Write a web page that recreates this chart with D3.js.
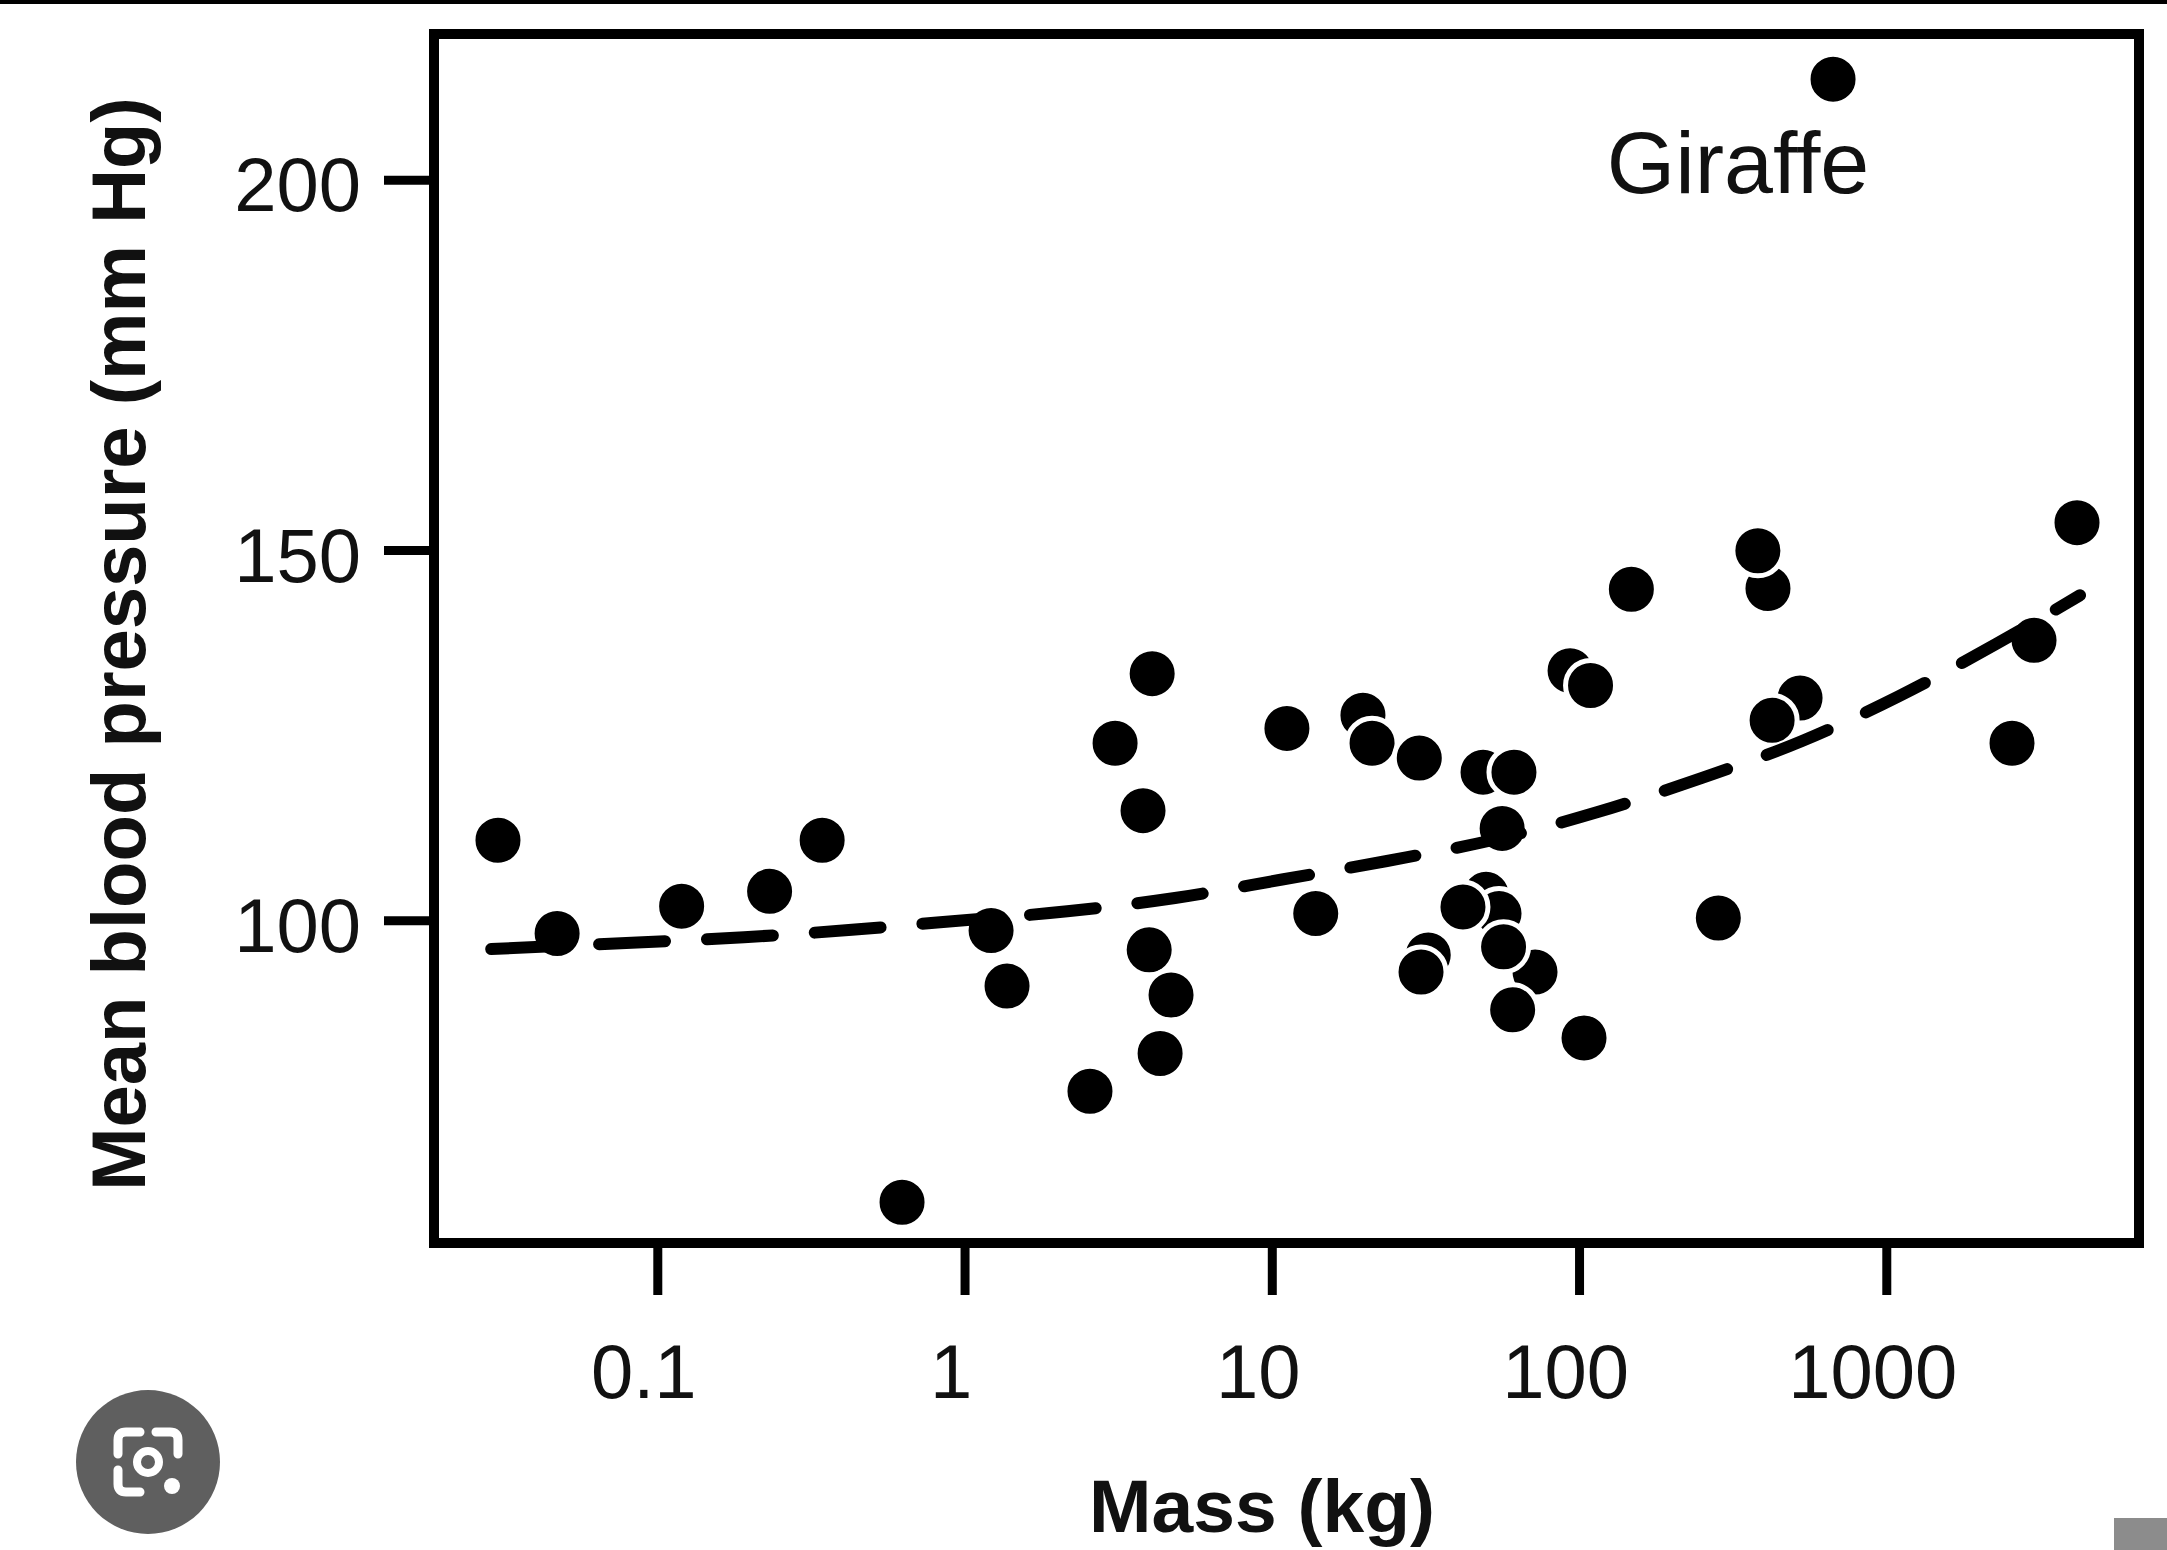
<!DOCTYPE html>
<html lang="en">
<head>
  <meta charset="UTF-8">
  <title>Mean blood pressure vs body mass</title>
  <script src="https://cdn.jsdelivr.net/npm/d3@7"></script>
  <style>
    html, body { margin: 0; padding: 0; background: #fff; }
    svg { display: block; }
    text { font-family: "Liberation Sans", Arial, Helvetica, sans-serif; fill: #111; }
    .axis path { display: none; }
    .axis line { stroke: #000; stroke-width: 9; }
  </style>
</head>
<body>
<svg id="chart"></svg>
<script>
// body mass (kg) and mean blood pressure (mm Hg)
// order matters a bit: later points sit on top of earlier ones
const mass = [
  0.0303, 0.0472, 0.120, 0.232, 0.344, 0.626, 1.22, 1.375, 2.56,
  3.09, 3.81, 4.08, 3.99, 4.70, 4.33,
  11.2, 13.9, 19.8, 21.2, 30.2, 32.3, 30.6,
  48.7, 61.4, 56.2, 49.8, 54.9, 41.9, 71.9, 56.8, 60.8,
  103.8, 93.5, 109, 148, 284, 412, 382, 524, 425, 671,
  2566, 3026, 4176
];
const pressure = [
  110.8, 98.2, 101.9, 103.9, 110.8, 61.9, 98.6, 91.1, 76.9,
  123.9, 114.8, 133.3, 96.0, 89.9, 82.0,
  125.9, 100.9, 127.7, 123.9, 121.9, 95.3, 93.0,
  120.0, 120.0, 112.4, 103.5, 100.9, 101.8, 93.0, 96.4, 87.9,
  84.1, 133.7, 131.7, 144.7, 100.3, 144.8, 149.9, 130.0, 127.0, 213.6,
  123.9, 137.8, 153.7
];

// dashed fitted curve
const fitMass = [0.0288, 0.0859, 0.1915, 0.430, 0.814, 2.16, 4.84, 10.8, 23.7, 53.3, 115, 250, 532, 1092, 2276, 4272];
const fitPressure = [96.1, 97.0, 97.7, 98.7, 99.7, 101.2, 103.0, 105.5, 108.0, 110.9, 114.6, 119.2, 124.2, 130.2, 137.3, 143.9];

const xTicks = [0.1, 1, 10, 100, 1000];
const xTickLabels = ["0.1", "1", "10", "100", "1000"];
const yTicks = [100, 150, 200];
const labelName = "Giraffe";
const labelIndex = 40;

const width = 2167, height = 1550;
const plotLeft = 434, plotRight = 2139, plotTop = 34, plotBottom = 1243;

const svg = d3.select("#chart")
  .attr("width", width)
  .attr("height", height);

svg.append("rect").attr("width", width).attr("height", height).attr("fill", "#fff");
// dark strip along the top edge of the screenshot
svg.append("rect").attr("width", width).attr("height", 4).attr("fill", "#000");

const x = d3.scaleLog().domain([0.01876, 6645]).range([plotLeft, plotRight]);
const y = d3.scaleLinear().domain([56.4, 219.7]).range([plotBottom, plotTop]);

// axes
const xAxis = svg.append("g")
  .attr("class", "axis")
  .attr("transform", `translate(0,${plotBottom})`)
  .call(d3.axisBottom(x).tickValues(xTicks).tickFormat((d, i) => xTickLabels[i]).tickSizeInner(52).tickSizeOuter(0));
xAxis.selectAll("text")
  .attr("y", 155).attr("dy", 0).attr("dx", -14)
  .style("font-size", "76px");

const yAxis = svg.append("g")
  .attr("class", "axis")
  .attr("transform", `translate(${plotLeft},0)`)
  .call(d3.axisLeft(y).tickValues(yTicks).tickSizeInner(50).tickSizeOuter(0));
yAxis.selectAll("text")
  .attr("x", -73).attr("dy", 31)
  .style("font-size", "76px");

// points
const points = mass.map((m, i) => ({ m: m, p: pressure[i] }));
svg.append("g")
  .selectAll("circle")
  .data(points)
  .join("circle")
  .attr("cx", d => x(d.m))
  .attr("cy", d => y(d.p))
  .attr("r", 25)
  .attr("fill", "#000")
  .attr("stroke", "#fff")
  .attr("stroke-width", 5);

// fitted curve
const fit = fitMass.map((m, i) => [m, fitPressure[i]]);
svg.append("path")
  .datum(fit)
  .attr("fill", "none")
  .attr("stroke", "#000")
  .attr("stroke-width", 12)
  .attr("stroke-linecap", "round")
  .attr("stroke-dasharray", "66 42")
  .attr("d", d3.line().x(d => x(d[0])).y(d => y(d[1])).curve(d3.curveMonotoneX));

// frame
svg.append("rect")
  .attr("x", plotLeft).attr("y", plotTop)
  .attr("width", plotRight - plotLeft).attr("height", plotBottom - plotTop)
  .attr("fill", "none")
  .attr("stroke", "#000")
  .attr("stroke-width", 10);

// giraffe annotation
svg.append("text")
  .attr("x", x(mass[labelIndex]) - 95)
  .attr("y", y(pressure[labelIndex]) + 114)
  .attr("text-anchor", "middle")
  .style("font-size", "88px")
  .text(labelName);

// axis titles
svg.append("text")
  .attr("x", 1262).attr("y", 1532)
  .attr("text-anchor", "middle")
  .style("font-size", "75px")
  .style("font-weight", "bold")
  .text("Mass (kg)");

svg.append("text")
  .attr("transform", "translate(145,644) rotate(-90)")
  .attr("text-anchor", "middle")
  .style("font-size", "76px")
  .style("font-weight", "bold")
  .text("Mean blood pressure (mm Hg)");

// screenshot overlays: lens button bottom left, grey tab bottom right
const lens = svg.append("g").attr("transform", "translate(148,1462)");
lens.append("circle").attr("r", 72).attr("fill", "#5f5f5f");
lens.append("path")
  .attr("d", "M-30,-8 V-22 Q-30,-30 -22,-30 H-8 M8,-30 H22 Q30,-30 30,-22 V-8 M-30,8 V22 Q-30,30 -22,30 H-8")
  .attr("fill", "none").attr("stroke", "#fff").attr("stroke-width", 9).attr("stroke-linecap", "round");
lens.append("circle").attr("r", 11).attr("fill", "none").attr("stroke", "#fff").attr("stroke-width", 8);
lens.append("circle").attr("cx", 24).attr("cy", 24).attr("r", 8).attr("fill", "#fff");
svg.append("rect").attr("x", 2114).attr("y", 1518).attr("width", 53).attr("height", 32).attr("fill", "#8c8c8c");
</script>
</body>
</html>
